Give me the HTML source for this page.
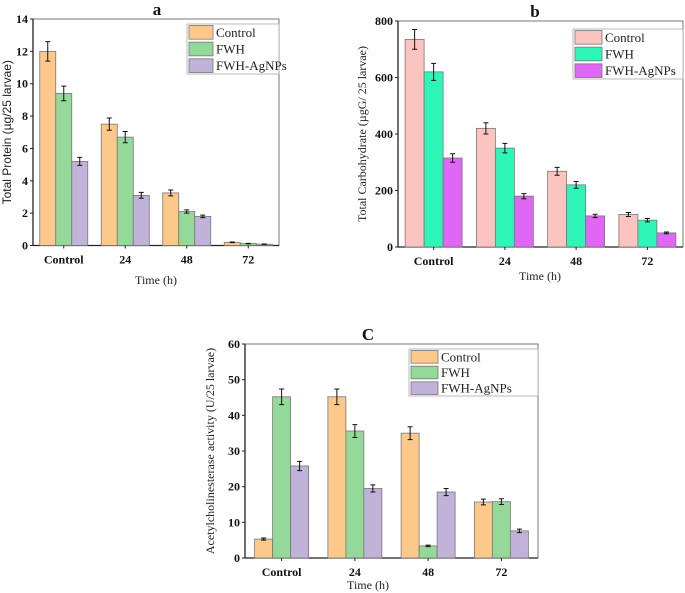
<!DOCTYPE html>
<html><head><meta charset="utf-8"><style>
body{margin:0;background:#fff;}
svg{display:block;font-family:"Liberation Serif",serif;}
</style></head><body>
<svg id="s" width="685" height="593" viewBox="0 0 685 593" xmlns="http://www.w3.org/2000/svg"></svg>
<script>
const categories = ["Control","24","48","72"];
const seriesNames = ["Control","FWH","FWH-AgNPs"];
// chart a
const aControl = [12, 7.5, 3.25, 0.2];
const aFWH = [9.4, 6.7, 2.1, 0.12];
const aAg = [5.2, 3.1, 1.8, 0.08];
const aErrControl = [0.6, 0.38, 0.18, 0.02];
const aErrFWH = [0.45, 0.35, 0.1, 0.01];
const aErrAg = [0.25, 0.18, 0.08, 0.01];
const aTicks = [0,2,4,6,8,10,12,14];
// chart b
const bControl = [735, 420, 268, 115];
const bFWH = [620, 350, 220, 95];
const bAg = [315, 180, 110, 50];
const bErrControl = [35, 20, 14, 7];
const bErrFWH = [30, 17, 12, 6];
const bErrAg = [15, 9, 6, 3];
const bTicks = [0,200,400,600,800];
// chart c
const cControl = [5.3, 45.2, 35, 15.7];
const cFWH = [45.2, 35.6, 3.4, 15.8];
const cAg = [25.8, 19.5, 18.5, 7.6];
const cErrControl = [0.3, 2.2, 1.8, 0.8];
const cErrFWH = [2.2, 1.8, 0.2, 0.8];
const cErrAg = [1.3, 1.0, 1.0, 0.5];
const cTicks = [0,10,20,30,40,50,60];

const svg = document.getElementById('s');
const NS = "http://www.w3.org/2000/svg";
function el(tag, attrs, parent){const e=document.createElementNS(NS,tag);for(const k in attrs)e.setAttribute(k,attrs[k]);(parent||svg).appendChild(e);return e;}

function chart(cfg){
  const g = el('g',{});
  
  
  const {L,R,T,B,max} = cfg;
  const y = v => B - v/max*(B-T);
  const band = (R-L)/categories.length;
  const xc = i => L + band*(i+0.5);
  const fr = el('rect',{x:L,y:T,width:R-L,height:B-T,fill:'none',stroke:'#555','stroke-width':0.8},g);
  
  
  el('line',{x1:L,y1:T,x2:L,y2:B,stroke:'#222','stroke-width':1.3},g);
  el('line',{x1:L,y1:B,x2:R,y2:B,stroke:'#222','stroke-width':1.3},g);
  cfg.series.forEach((s,si)=>{
    s.vals.forEach((v,i)=>{
      const x = xc(i) - 1.5*cfg.bw + si*cfg.bw;
      const r = el('rect',{x:x,y:y(v),width:cfg.bw,height:B-y(v),fill:cfg.colors[si],stroke:'#777','stroke-width':0.8},g);
      
      
      const e = s.err[i], cx = x+cfg.bw/2;
      const eb = el('path',{d:`M${cx-2.5},${y(v+e)}H${cx+2.5}M${cx},${y(v+e)}V${y(v-e)}M${cx-2.5},${y(v-e)}H${cx+2.5}`,stroke:'#111','stroke-width':1,fill:'none'},g);
      
      
    });
  });
  cfg.ticks.forEach(t=>{
    el('line',{x1:L-3,y1:y(t),x2:L,y2:y(t),stroke:'#222'},g);
    const tx = el('text',{x:L-5,y:y(t)+4,'text-anchor':'end','font-size':12,'font-weight':'bold',fill:'#111'},g);
    tx.textContent = t;
    
    
  });
  categories.forEach((c,i)=>{
    el('line',{x1:xc(i),y1:B,x2:xc(i),y2:B+3,stroke:'#222'},g);
    const tx = el('text',{x:xc(i),y:B+18,'text-anchor':'middle','font-size':12,'font-weight':'bold',fill:'#111'},g);
    tx.textContent = c;
    
    
  });
  const xt = el('text',{x:cfg.xtX,y:cfg.xtY,'text-anchor':'middle','font-size':12,fill:'#222'},g);
  xt.textContent='Time (h)';
  
  
  const yt = el('text',{x:0,y:0,'text-anchor':'middle','font-size':cfg.ytSize||12,fill:'#222',transform:`translate(${cfg.ytX},${(T+B)/2}) rotate(-90)`,style:cfg.ytSans?'font-family:"Liberation Sans",sans-serif':''},g);
  yt.textContent=cfg.ytitle;
  
  
  const ti = el('text',{x:cfg.tX,y:cfg.tY,'text-anchor':'middle','font-size':17,'font-weight':'bold',fill:'#111'},g);
  ti.textContent=cfg.title;
  
  
  const lg = cfg.leg;
  const lb = el('rect',{x:lg.x,y:lg.y,width:lg.w,height:lg.h,fill:'#fff',stroke:'#aaa','stroke-width':0.8},g);
  
  
  const rh = lg.h/3;
  seriesNames.forEach((n,i)=>{
    const ry = lg.y + i*rh;
    const sw = el('rect',{x:lg.x+2,y:ry+1.5,width:lg.sw,height:rh-3,fill:cfg.colors[i],stroke:'#777','stroke-width':0.8},g);
    
    
    const t = el('text',{x:lg.x+lg.sw+5,y:ry+rh/2+4.5,'font-size':13,fill:'#222'},g);
    t.textContent=n;
    
    
  });
}
const c1=['#fdc98a','#94d89a','#c0b2d8'];
chart({id:'a',L:33,R:279,T:19,B:245.5,max:14,bw:16,ticks:aTicks,colors:c1,
  series:[{vals:aControl,err:aErrControl},{vals:aFWH,err:aErrFWH},{vals:aAg,err:aErrAg}],
  xtX:156,xtY:284,ytX:11,ytitle:'Total Protein (µg/25 larvae)',ytSans:true,ytSize:12,title:'a',tX:157,tY:15,
  leg:{x:187,y:24,w:92,h:50,sw:24}});
chart({id:'b',L:398,R:683,T:21,B:247,max:800,bw:19,ticks:bTicks,colors:['#fbc4c0','#2ef5b8','#e066f5'],
  series:[{vals:bControl,err:bErrControl},{vals:bFWH,err:bErrFWH},{vals:bAg,err:bErrAg}],
  xtX:540,xtY:280,ytX:366,ytitle:'Total Carbohydrate (µgG/ 25 larvae)',title:'b',tX:535,tY:17,
  leg:{x:573,y:29,w:110,h:50,sw:27}});
chart({id:'c',L:245,R:538,T:344,B:558,max:60,bw:18,ticks:cTicks,colors:c1,
  series:[{vals:cControl,err:cErrControl},{vals:cFWH,err:cErrFWH},{vals:cAg,err:cErrAg}],
  xtX:368,xtY:589,ytX:214,ytitle:'Acetylcholinesterase activity (U/25 larvae)',title:'C',tX:368,tY:340,
  leg:{x:409,y:349,w:129,h:47,sw:27}});
</script>
</body></html>
